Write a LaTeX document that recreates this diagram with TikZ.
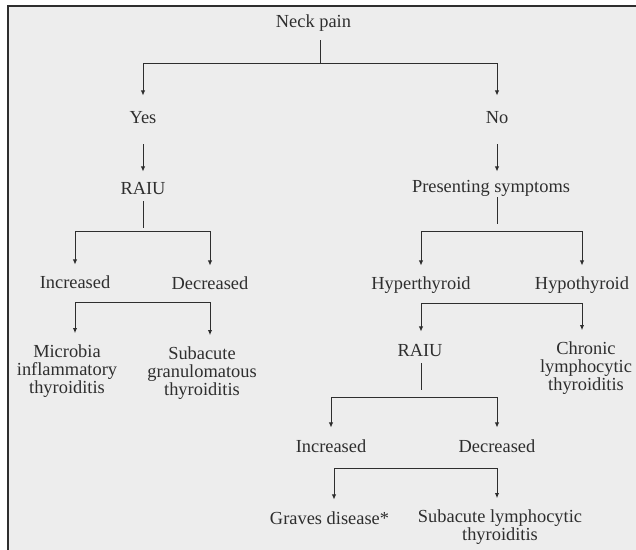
\documentclass[tikz,border=0pt]{standalone}
\usepackage{fontspec}
\setmainfont{Liberation Serif}
\usetikzlibrary{arrows.meta}
\definecolor{panel}{HTML}{EDEDED}
\definecolor{ink}{HTML}{2E2E2E}

\begin{document}
\begin{tikzpicture}[x=0.5pt,y=-0.5pt,>={Latex[length=2.6pt,width=2.2pt]},
		every node/.style={text=ink,font=\fontsize{9.2pt}{9pt}\selectfont,inner sep=0pt},
		lbl/.style={text height=6.5pt,text depth=2pt},
		multi/.style={align=center},
		link/.style={draw=ink,line width=0.5pt},
		arr/.style={link,->,shorten >=5.5pt}]
		\useasboundingbox (0,0) rectangle (636,550);
		\fill[panel] (8,6) rectangle (636,550);
		\draw[ink,line width=0.7pt] (8,550) -- (8,6) -- (636,6);
		
		\node[lbl] (neck) at (313.5,23.5) {Neck pain};
		
		\node[lbl] (yes) at (143,119.5) {Yes};
		\node[lbl] (no) at (497,119.5) {No};
		
		\node[lbl] (raiuA) at (143,190.5) {RAIU};
		\node[lbl] (pres) at (491,188.5) {Presenting symptoms};
		
		\node[lbl] (incA) at (75,284.5) {Increased};
		\node[lbl] (decA) at (210,285.5) {Decreased};
		\node[multi] (mic) at (67,371) {Microbia\\inflammatory\\thyroiditis};
		\node[multi] (sga) at (202,373) {Subacute\\granulomatous\\thyroiditis};
		
		\node[lbl] (hyper) at (421,285.5) {Hyperthyroid};
		\node[lbl] (hypo) at (582,285.5) {Hypothyroid};
		\node[lbl] (raiuB) at (420,351.5) {RAIU};
		\node[multi] (chron) at (586,368) {Chronic\\lymphocytic\\thyroiditis};
		
		\node[lbl] (incB) at (331,447.5) {Increased};
		\node[lbl] (decB) at (497,447.5) {Decreased};
		\node[lbl] (graves) at (329.5,519.5) {Graves disease*};
		\node[multi] (sly) at (500,527) {Subacute lymphocytic\\thyroiditis};
		
		\coordinate (j1) at (320,63.5);
		\coordinate (j2) at (143,232);
		\coordinate (j3) at (75,303);
		\coordinate (j4) at (497,232);
		\coordinate (j5) at (421,304);
		\coordinate (j6) at (421,397);
		\coordinate (j7) at (334,468);
		
		\draw[link,shorten <=4pt] (neck.south -| j1) -- (j1);
		\draw[arr,shorten >=7.5pt] (j1) -| (yes);
		\draw[arr,shorten >=7.5pt] (j1) -| (no);
		
		\draw[arr,shorten <=8pt,shorten >=5pt] (yes) -- (raiuA);
		\draw[arr,shorten <=8pt,shorten >=4pt] (no) -- (no |- pres.north);
		
		\draw[link,shorten <=1pt,shorten >=2pt] (raiuA) -- (j2);
		\draw[arr] (j2) -| (incA);
		\draw[arr] (j2) -| (decA);
		\draw[arr] (j3) -- (j3 |- mic.north);
		\draw[arr] (j3) -| (decA |- sga.north);
		
		\draw[link,shorten >=4pt] (pres.south -| j4) -- (j4);
		\draw[arr] (j4) -| (hyper);
		\draw[arr] (j4) -| (hypo);
		\draw[arr] (j5) -- (j5 |- raiuB.north);
		\draw[arr] (j5) -| (hypo |- chron.north);
		
		\draw[link,shorten <=1.5pt,shorten >=3.5pt] (raiuB.south -| j6) -- (j6);
		\draw[arr] (j6) -| (incB);
		\draw[arr] (j6) -| (decB);
		\draw[arr] (j7) -- (j7 |- graves.north);
		\draw[arr] (j7) -| (decB |- sly.north);
	\end{tikzpicture}
\end{document}
